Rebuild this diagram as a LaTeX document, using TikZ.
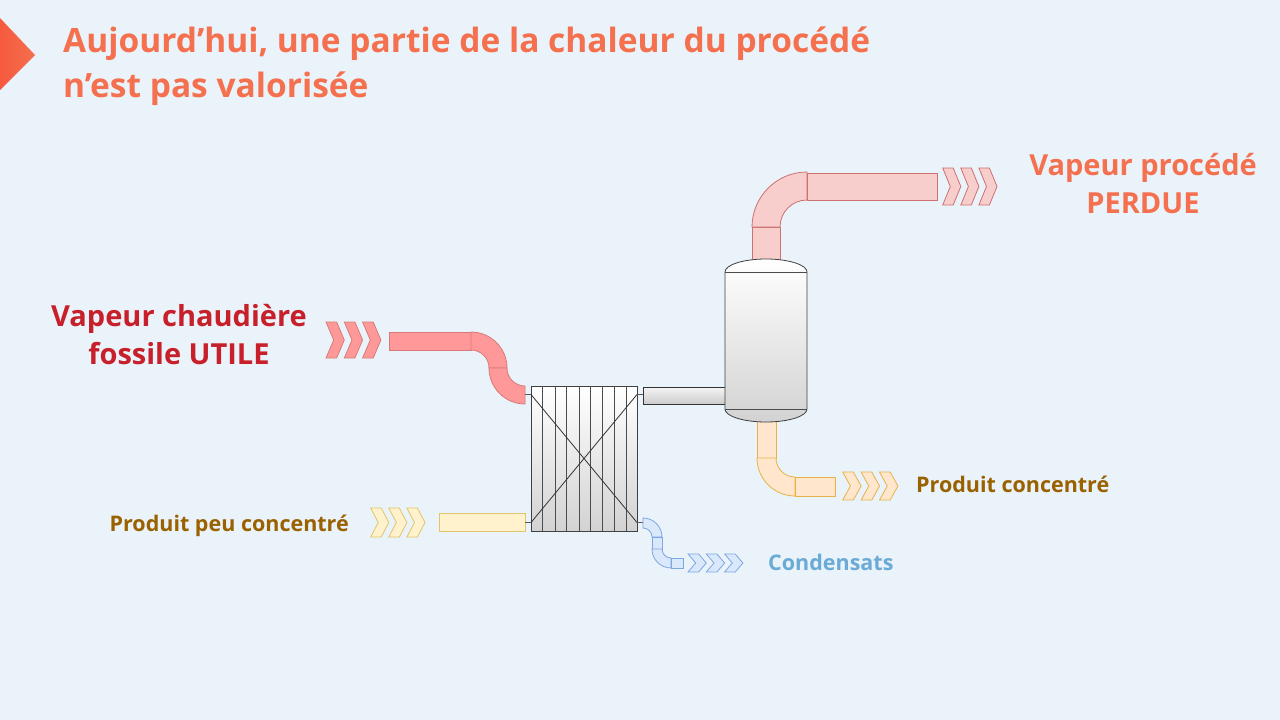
\documentclass[tikz,border=0pt]{standalone}
\usepackage{fontspec}
\setmainfont{Open Sans}
\usetikzlibrary{shadings}
\definecolor{bg}{HTML}{EAF3F9}
\definecolor{ttl}{HTML}{F4704E}
\definecolor{dred}{HTML}{C8202A}
\definecolor{brn}{HTML}{9A6100}
\definecolor{cblue}{HTML}{6AAAD6}
\definecolor{redf}{HTML}{FF9999}\definecolor{redd}{HTML}{D87A7A}
\definecolor{pinkf}{HTML}{F8CECC}\definecolor{pinkd}{HTML}{CC7070}
\definecolor{yelf}{HTML}{FFF2CC}\definecolor{yeld}{HTML}{E2C46A}
\definecolor{orf}{HTML}{FFE6CC}\definecolor{ord}{HTML}{E6B34A}
\definecolor{bluf}{HTML}{DAE8FC}\definecolor{blud}{HTML}{7EA6E0}
\newcommand\chevs[5]{% x y0 y1 w style
  \foreach \k in {0,1,2}{
    \pgfmathsetmacro\xa{#1+\k*#4}
    \pgfmathsetmacro\ym{(#2+#3)/2}
    \pgfmathsetmacro\tt{0.42*#4}
    \draw[#5] (\xa,#2) -- (\xa+#4-\tt,#2) -- (\xa+#4,\ym) -- (\xa+#4-\tt,#3) -- (\xa,#3) -- (\xa+\tt,\ym) -- cycle;}}
\begin{document}
\begin{tikzpicture}[x=1pt,y=-1pt,
  red/.style={fill=redf,draw=redd,line width=0.8pt},
  pink/.style={fill=pinkf,draw=pinkd,line width=0.8pt},
  yel/.style={fill=yelf,draw=yeld,line width=0.8pt},
  ora/.style={fill=orf,draw=ord,line width=0.8pt},
  blu/.style={fill=bluf,draw=blud,line width=0.8pt},
  metal/.style={top color=white,bottom color=gray!35,draw=black!75,line width=0.8pt},
  port/.style={draw=black!65,line width=0.8pt},
  lab/.style={font=\bfseries,align=center,inner sep=0pt}]
\fill[bg] (0,0) rectangle (1280,720);
\useasboundingbox (0,0) rectangle (1280,720);
% title marker
\shade[left color=ttl!80!red,right color=ttl] (0,18) -- (35,55) -- (0,90) -- cycle;
\node[lab,anchor=base west,text=ttl,font=\bfseries\fontsize{33.5}{44}\selectfont] (title1) at (63,52) {Aujourd’hui, une partie de la chaleur du procédé};
\node[lab,anchor=base west,text=ttl,font=\bfseries\fontsize{33.5}{44}\selectfont] (title2) at (63,97) {n’est pas valorisée};
% left red steam
\chevs{326}{322}{358}{18.3}{red}
\draw[red] (389,332) rectangle (471,350);
\draw[red] (471,332) arc[start angle=90,end angle=0,radius=36pt] -- (489,368) arc[start angle=0,end angle=90,radius=18pt] -- cycle;
\draw[red] (489,368) arc[start angle=180,end angle=270,radius=36pt] -- (525,386) arc[start angle=270,end angle=180,radius=18pt] -- cycle;
% yellow inlet
\chevs{370.7}{508}{537}{18.1}{yel}
\draw[yel] (439,513) rectangle (525,531);
% heat exchanger
\draw[metal] (531,386) rectangle (637,531);
\foreach \xx in {542.7,555,566.7,579.3,590.7,602.7,614,626}
  \draw[black!70,line width=0.8pt] (\xx,386) -- (\xx,531);
\draw[black!80,line width=0.8pt] (531,394.5) -- (637,522.5);
\draw[black!80,line width=0.8pt] (531,522.5) -- (637,394.5);
\draw[port] (525,394.5) -- (531,394.5);
\draw[port] (525,522.5) -- (531,522.5);
\draw[port] (637,394.5) -- (643,394.5);
\draw[port] (637,522.5) -- (643,522.5);
% connecting pipe
\draw[top color=gray!8,bottom color=gray!40,draw=black!80,line width=0.8pt] (643,387) rectangle (725,404);
% condensate
\draw[blu] (643,518) arc[start angle=90,end angle=0,radius=19pt] -- (652,537) arc[start angle=0,end angle=90,radius=9pt] -- cycle;
\draw[blu] (652,537) rectangle (662,549);
\draw[blu] (652,549) arc[start angle=180,end angle=270,radius=19pt] -- (671,558) arc[start angle=270,end angle=180,radius=9pt] -- cycle;
\draw[blu] (671,558) rectangle (683,568);
\chevs{688}{554}{572}{18.3}{blu}
% top pink vapour
\draw[pink] (752,227) rectangle (780,262);
\draw[pink] (752,227) arc[start angle=180,end angle=90,radius=55pt] -- (807,200) arc[start angle=90,end angle=180,radius=27pt] -- cycle;
\draw[pink] (807,173) rectangle (937,200);
\chevs{942.7}{168}{205}{18.1}{pink}
% bottom orange
\draw[ora] (757,420) rectangle (776,458);
\draw[ora] (757,458) arc[start angle=180,end angle=270,radius=38pt] -- (795,477) arc[start angle=270,end angle=180,radius=19pt] -- cycle;
\draw[ora] (795,477) rectangle (835,496);
\chevs{842.7}{472}{500}{18.4}{ora}
% column
\draw[metal] (725,272) arc[start angle=180,end angle=0,x radius=41pt,y radius=13pt] -- (807,409) arc[start angle=0,end angle=-180,x radius=41pt,y radius=13pt] -- cycle;
\draw[black!70,line width=0.8pt] (725,272) -- (807,272);
\draw[black!70,line width=0.8pt] (725,409) -- (807,409);
% labels
\node[lab,text=ttl,font=\bfseries\fontsize{29}{38}\selectfont] (perdue) at (1143,184) {Vapeur procédé\\PERDUE};
\node[lab,text=dred,font=\bfseries\fontsize{29}{38}\selectfont] (utile) at (179,335) {Vapeur chaudière\\fossile UTILE};
\node[lab,text=brn,anchor=base west,font=\bfseries\fontsize{21.5}{24}\selectfont] (pc) at (916,492) {Produit concentré};
\node[lab,text=brn,anchor=base east,font=\bfseries\fontsize{21.5}{24}\selectfont] (ppc) at (349,531) {Produit peu concentré};
\node[lab,text=cblue,anchor=base west,font=\bfseries\fontsize{21.5}{24}\selectfont] (cond) at (768,570) {Condensats};
\end{tikzpicture}
\end{document}
